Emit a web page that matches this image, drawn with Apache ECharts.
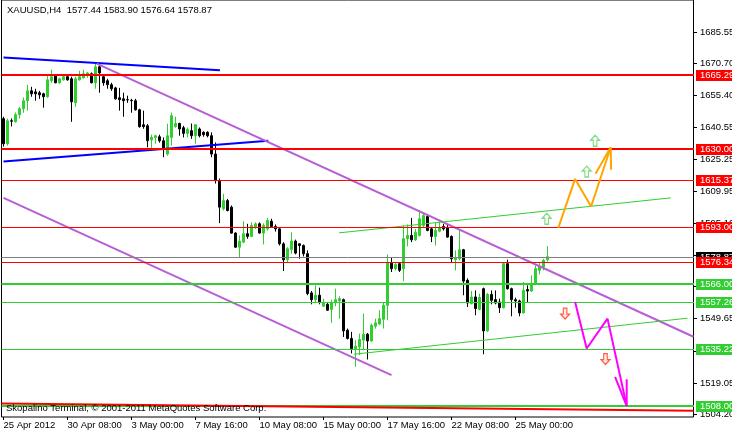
<!DOCTYPE html>
<html>
<head>
<meta charset="utf-8">
<script src="https://cdn.jsdelivr.net/npm/echarts@6/dist/echarts.min.js"></script>
<style>html,body{margin:0;padding:0;background:#fff}#c{width:732px;height:434px}</style>
</head>
<body>
<div id="c"></div>
<script>
// ---------------- data ----------------
const symbolName = 'XAUUSD,H4';
const xTickLabels = ['25 Apr 2012','30 Apr 08:00','3 May 00:00','7 May 16:00','10 May 08:00','15 May 00:00','17 May 16:00','22 May 08:00','25 May 00:00'];
const barsPerLabel = 16;
const slotCount = 173;
const yTickValues = [1685.55,1670.70,1655.40,1640.55,1625.25,1609.95,1595.10,1579.80,1564.95,1549.65,1534.35,1519.05,1504.20];

const opens = [1644.4,1632.5,1643.4,1642.9,1646.3,1649.1,1652.9,1657.6,1657.1,1656.7,1656.2,1654.8,1662.4,1664.7,1661.4,1662.8,1664.3,1663.3,1651.9,1662.8,
1663.8,1665.2,1665.7,1661.4,1669.0,1664.3,1662.4,1660.5,1659.0,1654.3,1653.8,1653.4,1653.1,1652.9,1648.6,1641.5,1641.0,1634.3,1635.4,1635.8,
1633.9,1627.6,1635.5,1640.6,1642.1,1640.1,1637.4,1638.7,1636.3,1639.5,1637.9,1637.9,1636.3,1627.6,1615.0,1601.6,1605.5,1602.4,1590.1,1583.4,
1585.8,1589.8,1588.5,1592.9,1594.5,1590.1,1592.1,1595.7,1593.2,1592.1,1585.0,1577.4,1582.2,1586.3,1585.0,1584.2,1580.3,1561.7,1558.5,1560.6,
1555.4,1556.3,1553.8,1557.4,1557.9,1558.5,1544.0,1540.1,1535.3,1536.1,1539.3,1542.1,1538.9,1545.9,1546.9,1549.2,1555.8,1575.9,1573.2,1575.6,
1573.2,1587.4,1589.0,1586.9,1589.0,1593.7,1598.0,1592.1,1588.5,1591.0,1593.2,1592.6,1588.5,1577.4,1577.9,1582.2,1567.7,1556.6,1559.8,1553.8,
1563.7,1543.7,1561.0,1558.5,1557.4,1554.7,1575.6,1563.7,1558.5,1557.9,1552.2,1563.3,1562.6,1566.1,1572.4,1574.0,1577.44];
const closes = [1632.5,1643.4,1643.2,1646.3,1649.1,1652.9,1657.6,1656.2,1656.2,1655.7,1654.8,1662.8,1664.3,1661.4,1663.3,1664.3,1662.8,1652.4,1663.3,1664.3,
1665.7,1666.1,1661.4,1669.0,1666.1,1661.4,1660.5,1658.6,1653.8,1653.4,1652.9,1653.3,1652.9,1648.6,1640.6,1640.6,1633.9,1635.5,1636.3,1633.9,
1630.0,1636.3,1645.8,1642.1,1639.5,1637.4,1639.2,1636.3,1641.5,1636.3,1636.8,1636.3,1627.6,1615.0,1602.4,1605.5,1600.8,1590.1,1583.4,1586.3,
1589.8,1588.5,1593.7,1594.5,1590.1,1593.7,1596.1,1593.2,1592.1,1585.0,1577.4,1582.7,1586.3,1580.6,1584.2,1580.3,1561.4,1558.5,1560.6,1557.4,
1556.9,1553.5,1556.9,1558.5,1559.0,1543.7,1540.1,1535.3,1536.4,1539.6,1542.1,1538.9,1546.4,1547.5,1549.5,1555.8,1575.9,1573.2,1575.2,1572.4,
1587.4,1589.0,1586.9,1590.5,1596.9,1598.4,1591.3,1588.5,1591.3,1592.6,1592.1,1588.2,1577.9,1578.4,1582.2,1567.3,1556.9,1559.8,1554.3,1559.5,
1543.7,1561.0,1558.2,1556.9,1554.7,1575.6,1563.7,1558.5,1557.9,1552.2,1562.9,1562.6,1565.8,1573.2,1574.3,1577.1,1578.87];
const lows = [1631.1,1631.6,1640.7,1642.5,1644.4,1647.2,1648.2,1654.8,1652.9,1653.8,1649.6,1654.3,1661.4,1661.2,1661.0,1662.4,1662.4,1642.9,1650.0,1662.4,
1663.3,1663.8,1661.2,1658.6,1656.7,1660.0,1658.6,1657.6,1653.4,1648.2,1645.3,1651.9,1647.2,1648.2,1640.1,1639.6,1630.8,1630.2,1632.5,1633.0,
1626.1,1626.8,1631.6,1640.1,1636.3,1635.5,1635.5,1634.8,1632.5,1635.5,1635.8,1635.5,1626.1,1613.6,1594.8,1600.8,1600.4,1589.8,1583.1,1578.7,
1585.3,1587.4,1588.2,1592.1,1589.8,1584.7,1591.3,1592.6,1590.8,1584.2,1572.1,1576.3,1580.3,1580.0,1577.9,1579.0,1560.6,1556.3,1557.4,1556.3,
1555.0,1553.2,1547.5,1555.4,1549.5,1540.8,1539.6,1533.0,1526.6,1532.2,1534.5,1530.1,1538.5,1544.8,1546.4,1544.8,1548.7,1571.6,1572.4,1571.6,
1567.3,1583.8,1585.8,1586.3,1588.5,1592.9,1591.0,1585.8,1584.2,1590.5,1591.3,1587.9,1576.3,1572.4,1577.1,1560.6,1555.0,1556.3,1551.1,1553.5,
1532.6,1543.2,1556.3,1556.3,1552.2,1554.3,1563.3,1550.6,1554.7,1550.6,1551.9,1556.9,1562.1,1565.8,1570.5,1572.4,1576.64];
const highs = [1645.3,1644.4,1644.5,1647.3,1650.0,1654.4,1660.5,1659.5,1658.6,1657.6,1656.7,1664.7,1667.6,1665.2,1663.9,1664.7,1665.2,1664.3,1664.3,1667.1,
1667.6,1666.6,1666.3,1670.4,1669.9,1664.7,1663.3,1661.4,1659.5,1659.0,1656.7,1655.3,1653.8,1653.8,1649.1,1648.2,1641.9,1636.8,1636.8,1636.8,
1635.5,1642.0,1647.3,1645.3,1642.5,1641.0,1640.2,1642.1,1641.8,1640.2,1638.4,1638.4,1637.9,1633.1,1616.0,1608.7,1606.3,1603.2,1590.5,1589.0,
1595.7,1594.5,1595.2,1595.2,1595.2,1594.7,1597.3,1596.9,1594.2,1592.9,1585.8,1583.4,1590.5,1587.0,1585.2,1584.7,1581.9,1562.6,1565.3,1564.2,
1559.0,1557.4,1558.5,1563.7,1560.1,1559.0,1544.8,1543.2,1539.3,1542.4,1551.9,1542.7,1547.2,1549.5,1553.5,1557.4,1580.0,1578.7,1575.9,1576.3,
1593.7,1594.2,1597.3,1592.1,1600.8,1599.5,1598.9,1592.9,1595.2,1595.7,1594.5,1594.5,1589.0,1581.9,1592.1,1582.6,1568.6,1562.6,1562.9,1561.3,
1564.2,1561.7,1562.9,1562.9,1559.0,1575.9,1577.5,1564.2,1559.5,1558.5,1566.9,1565.3,1570.0,1574.8,1575.9,1577.9,1583.90];

// horizontal levels
const levelValues = [1665.29, 1630.00, 1615.37, 1593.00, 1578.87, 1576.34, 1566.00, 1557.26, 1535.22, 1508.00];
const levelKinds  = ['resT','resT','res','res','bid','res','supT','sup','sup','supT'];

// trend lines [barIndex, price]
const blueUpper = [[0, 1673.4], [54.1, 1667.4]];
const blueLower = [[0, 1624.1], [66.2, 1633.9]];
const channelTop = [[23.3, 1670.5], [172.5, 1540.9]];
const channelBottom = [[0, 1606.8], [97.0, 1522.7]];
const greenUpper = [[83.9, 1590.2], [166.8, 1606.8]];
const greenLower = [[87.6, 1532.6], [171.0, 1549.7]];
const redBottom = [[-0.5, 1509.2], [172.5, 1505.8]];
// projected paths
const orangePath = [[138.7, 1592.6], [142.9, 1615.8], [146.9, 1602.7], [151.8, 1630.8]];
const orangeHead = [[148.0, 1618.2], [151.8, 1630.8], [151.9, 1620.1]];
const magentaPath = [[142.9, 1557.4], [145.8, 1535.3], [151.0, 1549.5], [155.8, 1508.0]];
const magentaHead = [[152.9, 1521.9], [155.8, 1508.0], [155.8, 1520.7]];
const upArrows = [[135.8, 1596.9], [145.8, 1619.3], [147.9, 1633.9]];
const downArrows = [[140.4, 1551.9], [150.5, 1530.3]];

// ---------------- build ----------------
const FONT = "'Liberation Sans', Arial, sans-serif";
const FS = 9.5;
const categories = Array.from({length: slotCount}, (_, i) =>
  (i % barsPerLabel === 0 && xTickLabels[i / barsPerLabel]) ? xTickLabels[i / barsPerLabel] : '');
const candleData = opens.map((o, i) => [o, closes[i], lows[i], highs[i]]);
const levelStyle = {
  resT: {line: '#ff0000', width: 2, box: '#ff0000'},
  res:  {line: '#ff0000', width: 1, box: '#ff0000'},
  bid:  {line: '#808080', width: 1, box: '#000000'},
  supT: {line: '#32cd32', width: 2, box: '#32cd32'},
  sup:  {line: '#32cd32', width: 1, box: '#32cd32'}
};
const showTick = (i) => i % barsPerLabel === 0 && !!xTickLabels[i / barsPerLabel];

function lineSeries(data, color, width, z) {
  return {type: 'line', xAxisIndex: 1, yAxisIndex: 0, data: data, showSymbol: false, symbol: 'none',
    lineStyle: {color: color, width: width}, silent: true, z: z || 4, animation: false};
}

const last = opens.length - 1;
const headerText = symbolName + '  ' + opens[last].toFixed(2) + ' ' + highs[last].toFixed(2) + ' ' +
  lows[last].toFixed(2) + ' ' + closes[last].toFixed(2);

const chart = echarts.init(document.getElementById('c'), null, {renderer: 'canvas'});
chart.setOption({
  animation: false,
  backgroundColor: '#fff',
  grid: {left: 1.5, right: 38.5, top: -1, bottom: 17, show: true, borderColor: '#000', borderWidth: 1, backgroundColor: '#fff'},
  xAxis: [{
    type: 'category', data: categories, boundaryGap: true,
    axisLine: {show: false},
    axisTick: {show: true, interval: showTick, alignWithLabel: true, length: 3, lineStyle: {color: '#000'}},
    axisLabel: {interval: showTick, align: 'left', margin: 3, color: '#000', fontSize: FS, fontFamily: FONT},
    splitLine: {show: false}
  }, {
    type: 'value', min: -0.5, max: slotCount - 0.5, show: false
  }],
  yAxis: [{
    type: 'value', position: 'right', min: 1502.82, max: 1700.70, scale: true,
    axisLine: {show: false}, axisTick: {show: false}, axisLabel: {show: false}, splitLine: {show: false}
  }],
  graphic: [
    {type: 'text', left: 7, top: 5, z: 100, style: {text: headerText, fill: '#000', font: FS + 'px ' + FONT}},
    {type: 'text', left: 6, top: 403, z: 100, style: {text: 'Skopalino Terminal, \u00a9 2001-2011 MetaQuotes Software Corp.', fill: '#000', font: FS + 'px ' + FONT}}
  ],
  series: [
    {
      type: 'custom', name: 'yTicks', xAxisIndex: 0, yAxisIndex: 0, clip: false, silent: true, z: 1,
      data: yTickValues.map(v => [0, v]),
      renderItem: function (params, api) {
        const y = Math.round(api.coord([0, api.value(1)])[1]) + 0.5;
        const x = Math.round(params.coordSys.x + params.coordSys.width);
        return {type: 'group', children: [
          {type: 'line', shape: {x1: x, y1: y, x2: x + 3, y2: y}, style: {stroke: '#000', lineWidth: 1}},
          {type: 'text', x: x + 6, y: y, style: {text: api.value(1).toFixed(2), fill: '#000', font: FS + 'px ' + FONT, align: 'left', verticalAlign: 'middle'}}
        ]};
      }
    },
    {
      type: 'candlestick', name: 'XAUUSD', xAxisIndex: 0, yAxisIndex: 0, data: candleData,
      barWidth: 2, z: 2, silent: true,
      itemStyle: {color: '#32cd32', color0: '#000000', borderColor: '#32cd32', borderColor0: '#000000', borderWidth: 1}
    },
    lineSeries(blueUpper, '#0000ff', 2),
    lineSeries(blueLower, '#0000ff', 2),
    lineSeries(channelTop, '#b85fd6', 2),
    lineSeries(channelBottom, '#b85fd6', 2),
    lineSeries(greenUpper, '#32cd32', 1),
    lineSeries(greenLower, '#32cd32', 1),
    {
      type: 'custom', name: 'levels', xAxisIndex: 0, yAxisIndex: 0, clip: false, silent: true, z: 5,
      data: levelValues.map(v => [0, v]),
      renderItem: function (params, api) {
        const st = levelStyle[levelKinds[params.dataIndex]];
        const yc = api.coord([0, api.value(1)])[1];
        const yl = st.width === 1 ? Math.round(yc) + 0.5 : Math.round(yc);
        const cs = params.coordSys;
        const x = Math.round(cs.x + cs.width);
        return {type: 'group', children: [
          {type: 'line', shape: {x1: cs.x, y1: yl, x2: x, y2: yl}, style: {stroke: st.line, lineWidth: st.width}},
          {type: 'rect', shape: {x: x + 2, y: Math.round(yc) - 5, width: 40, height: 11}, style: {fill: st.box}},
          {type: 'text', x: x + 6, y: Math.round(yc) + 0.5, style: {text: api.value(1).toFixed(2), fill: '#fff', font: FS + 'px ' + FONT, align: 'left', verticalAlign: 'middle'}}
        ]};
      }
    },
    lineSeries(redBottom, '#ff0000', 2, 6),
    lineSeries(orangePath, '#ffa500', 2, 7),
    lineSeries(orangeHead, '#ffa500', 2, 7),
    lineSeries(magentaPath, '#ff00ff', 2, 7),
    lineSeries(magentaHead, '#ff00ff', 2, 7),
    {
      type: 'scatter', xAxisIndex: 1, yAxisIndex: 0, data: upArrows, z: 8, silent: true,
      symbol: 'path://M5,0L10,5L7,5L7,11L3,11L3,5L0,5Z', symbolSize: [9, 11],
      itemStyle: {color: '#ffffdd', borderColor: '#5ccf7a', borderWidth: 1.2}
    },
    {
      type: 'scatter', xAxisIndex: 1, yAxisIndex: 0, data: downArrows, z: 8, silent: true,
      symbol: 'path://M3,0L7,0L7,6L10,6L5,11L0,6L3,6Z', symbolSize: [9, 11],
      itemStyle: {color: '#ffe4dc', borderColor: '#ff3a1a', borderWidth: 1.2}
    }
  ]
});
</script>
</body>
</html>
